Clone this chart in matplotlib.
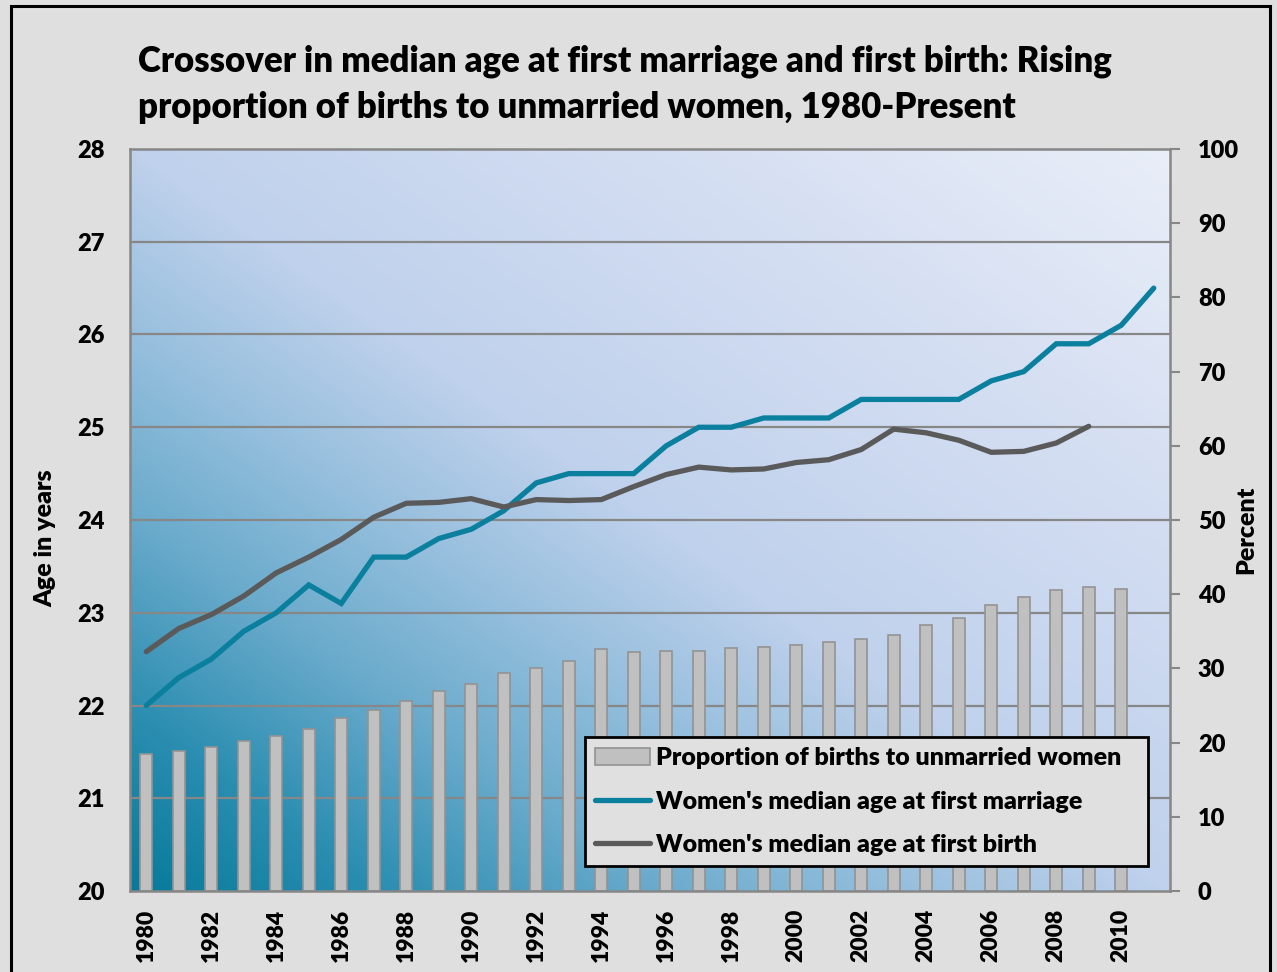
import numpy as np
import matplotlib
matplotlib.use("Agg")
import matplotlib.pyplot as plt
from matplotlib.colors import LinearSegmentedColormap
from matplotlib.patches import Rectangle, Patch
from matplotlib.lines import Line2D

# ---------------- data ----------------
years = list(range(1980, 2012))
bar_years = list(range(1980, 2011))
unmarried_pct = [18.4, 18.9, 19.4, 20.2, 20.9, 21.9, 23.3, 24.4, 25.6, 27.0,
                 27.9, 29.4, 30.1, 31.0, 32.6, 32.2, 32.4, 32.4, 32.8, 32.9,
                 33.2, 33.5, 34.0, 34.5, 35.8, 36.8, 38.5, 39.6, 40.6, 41.0,
                 40.7]
marriage_years = list(range(1980, 2012))
age_marriage = [22.0, 22.3, 22.5, 22.8, 23.0, 23.3, 23.1, 23.6, 23.6, 23.8,
                23.9, 24.1, 24.4, 24.5, 24.5, 24.5, 24.8, 25.0, 25.0, 25.1,
                25.1, 25.1, 25.3, 25.3, 25.3, 25.3, 25.5, 25.6, 25.9, 25.9,
                26.1, 26.5]
birth_years = list(range(1980, 2010))
age_birth = [22.58, 22.83, 22.98, 23.18, 23.43, 23.60, 23.79, 24.03, 24.18, 24.19,
             24.23, 24.14, 24.22, 24.21, 24.22, 24.36, 24.49, 24.57, 24.54, 24.55,
             24.62, 24.65, 24.76, 24.98, 24.94, 24.86, 24.73, 24.74, 24.83, 25.01]
xtick_years = list(range(1980, 2011, 2))
age_ticks = list(range(20, 29))
pct_ticks = list(range(0, 101, 10))

title_line1 = "Crossover in median age at first marriage and first birth: Rising"
title_line2 = "proportion of births to unmarried women, 1980-Present"
labels = ["Proportion of births to unmarried women",
          "Women's median age at first marriage",
          "Women's median age at first birth"]

# ---------------- style ----------------
FONT = ["Lato", "DejaVu Sans"]
WT = "heavy"
plt.rcParams["font.family"] = FONT
plt.rcParams["font.weight"] = WT
BG = "#dfdfdf"
BLUE = "#0a7f9e"
DGRAY = "#5a5a5a"
GRID = "#878787"

W, H = 1277, 972
fig = plt.figure(figsize=(W / 100, H / 100), dpi=100, facecolor=BG)

# outer frame
fig.patches.append(Rectangle((11 / W, -0.05), (1270 - 11) / W, (H - 6) / H + 0.05,
                             transform=fig.transFigure, fill=False,
                             edgecolor="black", linewidth=2.2, zorder=10))

L, R, T, B = 130, 1170, 149, 891
ax = fig.add_axes([L / W, (H - B) / H, (R - L) / W, (B - T) / H])
ax.set_facecolor("none")

# gradient background
n = 300
u = np.linspace(0, 1, n)
uu, vv = np.meshgrid(u, u)
tt = (uu + vv) / 2
cmap = LinearSegmentedColormap.from_list("bg", [
    (0.0, "#077a9b"), (0.12, "#2b8eb1"), (0.25, "#69aacb"),
    (0.38, "#98c0de"), (0.5, "#bfd1ec"), (0.75, "#d4def2"), (1.0, "#e9eef8")])
ax.imshow(tt, cmap=cmap, origin="lower", extent=[0, 1, 0, 1],
          transform=ax.transAxes, aspect="auto", zorder=0, interpolation="bilinear")

xpos = {y: i for i, y in enumerate(years)}

# gridlines at integer ages (on the percent axis scale)
for a in age_ticks[1:-1]:
    ax.axhline((a - 20) / 8 * 100, color=GRID, linewidth=1.6, zorder=1)

ax.bar([xpos[y] for y in bar_years], unmarried_pct, width=0.38,
       color="#c0c0c0", edgecolor="#939393", linewidth=1.2, zorder=2)
ax.set_ylim(0, 100)
ax.set_xlim(-0.5, len(years) - 0.5)
ax.set_xticks([xpos[y] for y in xtick_years])
ax.set_xticklabels([str(y) for y in xtick_years], rotation=90, fontsize=16.5,
                   fontweight=WT)
ax.tick_params(axis="x", length=0, pad=13)
for s in ax.spines.values():
    s.set_color(GRID)
    s.set_linewidth(1.8)
ax.set_zorder(1)

# lines axis
ax2 = ax.twinx()
ax2.set_ylim(20, 28)
ax2.patch.set_visible(False)
ax2.plot([xpos[y] for y in marriage_years], age_marriage, color=BLUE,
         linewidth=3.8, solid_capstyle="round", solid_joinstyle="miter", zorder=3)
ax2.plot([xpos[y] for y in birth_years], age_birth, color=DGRAY,
         linewidth=3.8, solid_capstyle="round", solid_joinstyle="miter", zorder=3)
for s in ax2.spines.values():
    s.set_visible(False)
ax2.set_zorder(2)

# percent ticks on the right (after twinx, which resets tick side)
ax.yaxis.tick_right()
ax.set_yticks(pct_ticks)
ax.set_yticklabels([str(p) for p in pct_ticks], fontsize=17, fontweight=WT)
ax.tick_params(axis="y", which="major", direction="out", length=7, width=1.5,
               color=GRID, pad=13, left=False, labelleft=False,
               right=True, labelright=True)

# age ticks on the left
ax2.yaxis.tick_left()
ax2.set_yticks(age_ticks)
ax2.set_yticklabels([str(a) for a in age_ticks], fontsize=17, fontweight=WT)
ax2.tick_params(axis="y", length=0, pad=18.5, left=True, labelleft=True,
                right=False, labelright=False)

# axis titles
fig.text(45 / W, 1 - 538 / H, "Age in years", rotation=90, ha="center", va="center",
         fontsize=18, fontweight=WT)
fig.text(1246 / W, 1 - 530 / H, "Percent", rotation=90, ha="center", va="center",
         fontsize=18, fontweight=WT)

# title
fig.text(138 / W, 1 - 72 / H, title_line1, ha="left", va="baseline",
         fontsize=25, fontweight=WT)
fig.text(138 / W, 1 - 118 / H, title_line2, ha="left", va="baseline",
         fontsize=25, fontweight=WT)

# legend
handles = [Patch(facecolor="#c0c0c0", edgecolor="#939393", linewidth=1.2),
           Line2D([0], [0], color=BLUE, linewidth=3.8, solid_capstyle="round"),
           Line2D([0], [0], color=DGRAY, linewidth=3.8, solid_capstyle="round")]
x0 = (585 - L) / (R - L)
y0 = (B - 868) / (B - T)
w = (1148 - 585) / (R - L)
h = (868 - 735) / (B - T)
leg = ax2.legend(handles, labels, loc="center left", bbox_to_anchor=(x0, y0, w, h),
                 mode="expand", fontsize=18, frameon=True, fancybox=False,
                 handlelength=2.2, handletextpad=0.25, borderpad=0.4,
                 labelspacing=0.85, borderaxespad=0)
fr = leg.get_frame()
fr.set_facecolor("#e0e0e0")
fr.set_edgecolor("black")
fr.set_linewidth(2)
fr.set_alpha(1)
for t in leg.get_texts():
    t.set_fontweight(WT)

fig.savefig("out.png", dpi=100, facecolor=BG)
